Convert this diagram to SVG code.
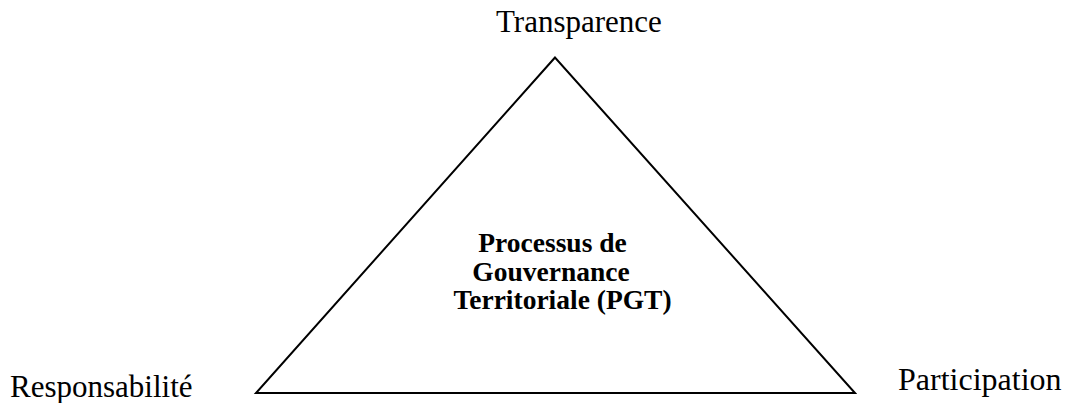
<svg xmlns="http://www.w3.org/2000/svg" width="1067" height="403" viewBox="0 0 1067 403">
<style>
.lbl{font-family:"Liberation Serif","Times New Roman",serif;font-size:31px;fill:#000}
.ctr{font-family:"Liberation Serif","Times New Roman",serif;font-size:27.5px;font-weight:bold;fill:#000;text-anchor:middle}
.tri{fill:none;stroke:#000;stroke-width:2;stroke-linejoin:miter}
</style>
<rect width="1067" height="403" fill="#fff"/>
<g id="connectors">
<polygon class="tri" points="555,57.5 256,393 855,393"/>
</g>
<g id="node-center">
<text class="ctr" x="552.5" y="252">Processus de</text>
<text class="ctr" x="551" y="280.5">Gouvernance</text>
<text class="ctr" x="562.5" y="309">Territoriale (PGT)</text>
</g>
<g id="node-transparence">
<text class="lbl" x="496" y="32">Transparence</text>
</g>
<g id="node-responsabilite">
<text class="lbl" x="10" y="397">Responsabilité</text>
</g>
<g id="node-participation">
<text class="lbl" x="898" y="390" style="font-size:32px">Participation</text>
</g>
</svg>
